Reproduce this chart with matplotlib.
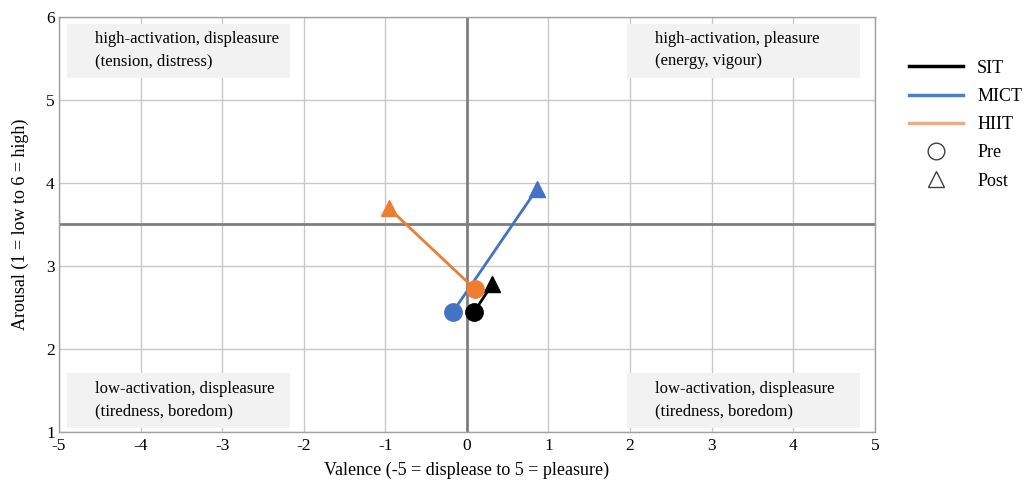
import matplotlib
matplotlib.use("Agg")
import matplotlib.pyplot as plt
from matplotlib.lines import Line2D
from matplotlib.patches import Rectangle

plt.rcParams['font.family'] = ['Liberation Serif', 'DejaVu Serif']
plt.rcParams['axes.unicode_minus'] = False

groups = ["SIT", "MICT", "HIIT"]
colors = ["#000000", "#4472C4", "#ED7D31"]
legend_colors = ["#000000", "#4A7FD0", "#F4A97A"]
pre_valence = [0.09, -0.17, 0.10]
pre_arousal = [2.45, 2.45, 2.72]
post_valence = [0.31, 0.86, -0.96]
post_arousal = [2.78, 3.93, 3.70]

quad_labels = ["high-activation, displeasure\n(tension, distress)",
               "high-activation, pleasure\n(energy, vigour)",
               "low-activation, displeasure\n(tiredness, boredom)",
               "low-activation, displeasure\n(tiredness, boredom)"]

fig = plt.figure(figsize=(10.28, 4.84), dpi=100)
ax = fig.add_axes([0.0574, 0.1074, 0.7936, 0.8576])
ax.set_xlim(-5, 5)
ax.set_ylim(1, 6)
ax.set_xticks(range(-5, 6))
ax.set_yticks(range(1, 7))
ax.grid(True, color="#c8c8c8", linewidth=1.0)
ax.set_axisbelow(True)
for s in ax.spines.values():
    s.set_color("#a0a0a0")
    s.set_linewidth(1.0)
ax.tick_params(length=0, labelsize=12.5)
ax.tick_params(axis="x", pad=4)
ax.tick_params(axis="y", pad=3)

# quadrant boxes
boxes = [(-4.9, 5.27, 2.73, 0.65), (1.96, 5.27, 2.86, 0.65),
         (-4.9, 1.05, 2.73, 0.66), (1.96, 1.05, 2.86, 0.66)]
text_pos = [(-4.56, 5.6), (2.30, 5.6), (-4.56, 1.38), (2.30, 1.38)]
for (x0, y0, w, h), (tx, ty), lab in zip(boxes, text_pos, quad_labels):
    ax.add_patch(Rectangle((x0, y0), w, h, facecolor="#f2f2f2", edgecolor="none", zorder=1.5))
    ax.text(tx, ty, lab, fontsize=12, va="center", ha="left", linespacing=1.55, zorder=2)

ax.axvline(0, color="#7f7f7f", linewidth=2.0, zorder=1.8)
ax.axhline(3.5, color="#7f7f7f", linewidth=2.0, zorder=1.8)

for g, c, xv0, ya0, xv1, ya1 in zip(groups, colors, pre_valence, pre_arousal, post_valence, post_arousal):
    ax.plot([xv0, xv1], [ya0, ya1], color=c, linewidth=2.0, zorder=3)
    ax.plot(xv0, ya0, marker="o", color=c, markersize=12.5, linestyle="none", zorder=4)
    ax.plot(xv1, ya1, marker="^", color=c, markersize=12, linestyle="none", zorder=4)

ax.set_xlabel("Valence (-5 = displease to 5 = pleasure)", fontsize=13, labelpad=6)
ax.set_ylabel("Arousal (1 = low to 6 = high)", fontsize=13, labelpad=12)

handles = [Line2D([0], [0], color=c, linewidth=2.5) for c in legend_colors]
handles += [Line2D([0], [0], marker="o", color="#404040", markerfacecolor="none", markersize=12, linestyle="none", markeredgewidth=1.0),
            Line2D([0], [0], marker="^", color="#404040", markerfacecolor="none", markersize=12, linestyle="none", markeredgewidth=1.0)]
labels = groups + ["Pre", "Post"]
fig.legend(handles, labels, loc="upper left", bbox_to_anchor=(0.868, 0.91), frameon=False,
           fontsize=13, handlelength=3.0, labelspacing=0.62, handletextpad=0.8)

fig.savefig("out.png", dpi=100)
